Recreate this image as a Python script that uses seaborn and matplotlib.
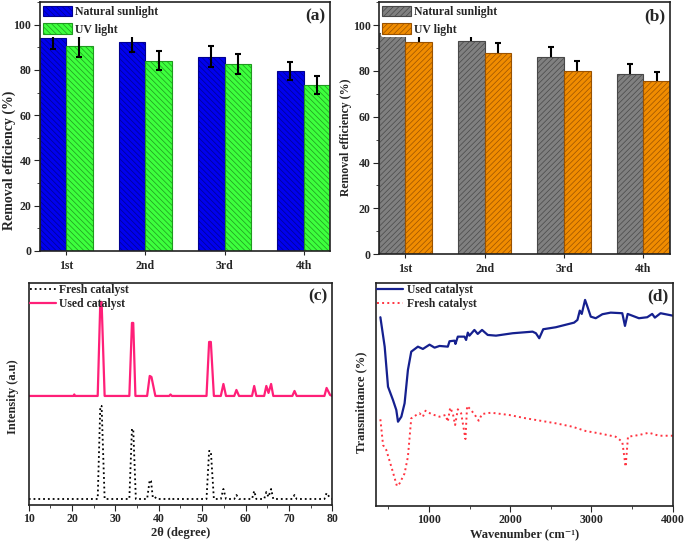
import matplotlib
matplotlib.use('Agg')
import matplotlib.pyplot as plt
import seaborn as sns
import pandas as pd
from matplotlib.patches import Patch
from matplotlib.lines import Line2D
from matplotlib.ticker import MultipleLocator

# ---- data ----
cycles = ['1st', '2nd', '3rd', '4th']
lights = ['Natural sunlight', 'UV light']

# panel (a)
a_sun = [94.3, 92.6, 85.9, 79.6]
a_uv = [90.4, 84.1, 82.6, 73.2]
a_sun_err = [4.9, 4.6, 4.5, 3.9]
a_uv_err = [4.7, 4.2, 4.3, 4.0]

# panel (b)
b_sun = [96.6, 93.0, 85.9, 78.7]
b_uv = [92.7, 87.6, 80.0, 75.6]
b_sun_err = [4.5, 4.9, 4.4, 4.2]
b_uv_err = [4.6, 4.4, 4.3, 3.8]

# panel (c) XRD traces (2theta, intensity a.u.)
used_xrd_x = [10, 20.3, 20.5, 20.7, 25.9, 26.5, 26.8, 27.5, 33.2, 33.8, 34.1, 34.6,
              37.3, 37.9, 38.3, 39.2, 42.4, 42.7, 43.0, 51.0, 51.6, 52.0, 52.7,
              54.3, 54.9, 55.5, 57.4, 57.9, 58.5, 61.5, 62.0, 62.5, 64.3, 64.8,
              65.3, 65.9, 66.4, 70.8, 71.3, 71.8, 78.2, 78.7, 79.5, 80]
used_xrd_y = [109, 109, 110.5, 109, 109, 203, 203, 109, 109, 182, 182, 109,
              109, 129, 128, 109, 109, 110.5, 109, 109, 163, 163, 109,
              109, 121, 109, 109, 115, 109, 109, 119, 109, 109, 119,
              112, 121, 109, 109, 114, 109, 109, 117, 110, 109]
fresh_xrd_x = [10, 25.9, 26.5, 26.8, 27.5, 33.2, 33.8, 34.1, 34.7, 37.3, 37.9, 38.2,
               38.6, 38.9, 39.5, 42.4, 42.7, 43.0, 51.0, 51.6, 52.0, 52.7, 54.3,
               54.9, 55.5, 57.4, 57.9, 58.5, 61.5, 62.0, 62.5, 64.3, 64.8, 65.3,
               65.9, 66.4, 70.8, 71.3, 71.8, 78.2, 78.7, 79.5, 80]
fresh_xrd_y = [6, 6, 99, 99, 6, 6, 76, 76, 6, 6, 25, 24,
               8, 9, 6, 6, 7, 6, 6, 54, 54, 6, 6,
               16, 6, 6, 10, 6, 6, 14, 6, 6, 13, 8,
               16, 6, 6, 10, 6, 6, 12, 7, 6]

# panel (d) FTIR traces (wavenumber, transmittance a.u.)
used_ir_x = [403, 456, 497, 558, 599, 620, 661, 701, 742, 783, 865, 926, 1008, 1070,
             1131, 1233, 1254, 1315, 1327, 1356, 1438, 1458, 1479, 1499, 1560, 1601,
             1654, 1724, 1826, 2031, 2276, 2317, 2358, 2407, 2562, 2787, 2828, 2857,
             2881, 2922, 2951, 2992, 3053, 3135, 3237, 3380, 3413, 3446, 3585, 3687,
             3748, 3781, 3851, 4000]
used_ir_y = [188.7, 159.3, 119.3, 106, 96, 84.3, 89.3, 102.7, 136, 154.3, 159.3, 157,
             161.3, 158.3, 160, 159.3, 164.7, 165.3, 162, 169.3, 169.3, 166, 173.3,
             170.3, 176, 172, 176, 171, 170.3, 172.7, 174.3, 172.7, 167.7, 176.7,
             178.7, 183.3, 186, 195.3, 192, 206, 199.3, 189.3, 187.7, 191.7, 193.3,
             192.7, 180, 192, 187.7, 188.7, 192, 188.3, 192.7, 190.3]
fresh_ir_x = [403, 436, 476, 538, 607, 640, 701, 742, 783, 845, 885, 926, 959, 1029,
              1131, 1205, 1233, 1262, 1294, 1323, 1356, 1397, 1450, 1470, 1519, 1581,
              1613, 1654, 1765, 1990, 2194, 2562, 2767, 2930, 3094, 3298, 3380, 3421,
              3450, 3585, 3708, 3830, 4000]
fresh_ir_y = [86.7, 61, 56, 39.3, 20, 22.7, 32.7, 49.3, 87.7, 91, 92.7, 89.3, 95.3,
              92, 89.3, 91, 84.3, 98.3, 92.7, 81, 96.7, 92.7, 67, 100, 96, 89.3, 85.3,
              92, 93.3, 91, 87.7, 82.7, 79.3, 75, 72.7, 69.3, 64.3, 39.3, 69.3, 71,
              73.3, 70.3, 70.3]

sns.set_style('ticks')
plt.rcParams['font.family'] = ['Liberation Serif', 'DejaVu Serif']
plt.rcParams['font.weight'] = 'bold'
plt.rcParams['axes.labelweight'] = 'bold'
plt.rcParams['hatch.linewidth'] = 0.5
plt.rcParams['axes.edgecolor'] = '#222222'
plt.rcParams['axes.linewidth'] = 1.2

fig = plt.figure(figsize=(6.85, 5.43), dpi=100)


def bar_panel(ax, sun, uv, sun_err, uv_err, colors, edges, hatch, tag, ylab_size, ylab_xy, err_on_top):
    df = pd.DataFrame({'cycle': cycles * 2,
                       'light': [lights[0]] * 4 + [lights[1]] * 4,
                       'eff': sun + uv})
    sns.barplot(data=df, x='cycle', y='eff', hue='light', hue_order=lights,
                palette=colors, width=0.67, gap=0, errorbar=None, legend=False,
                saturation=1, linewidth=0.8, ax=ax)
    for cont, ec, errs in zip(ax.containers, edges, [sun_err, uv_err]):
        xs, ys = [], []
        for bar in cont:
            bar.set_hatch(hatch)
            bar.set_edgecolor(ec)
            xs.append(bar.get_x() + bar.get_width() / 2)
            ys.append(bar.get_height())
        ax.errorbar(xs, ys, yerr=errs, fmt='none', ecolor='black', elinewidth=1.5,
                    capsize=2.5, capthick=1.5, zorder=3 if err_on_top else 0.5)
    ax.set_xlim(-0.335, 3.335)
    ax.set_ylim(0, 110)
    ax.yaxis.set_major_locator(MultipleLocator(20))
    ax.yaxis.set_minor_locator(MultipleLocator(10))
    ax.tick_params(axis='y', which='major', length=4, labelsize=8.5, pad=2)
    ax.tick_params(axis='y', which='minor', length=2.5)
    ax.tick_params(axis='x', length=3, labelsize=8.5)
    ax.set_xlabel('')
    ax.set_ylabel('Removal efficiency (%)', fontsize=ylab_size)
    ax.yaxis.set_label_coords(*ylab_xy)
    handles = [Patch(facecolor=c, edgecolor=e, hatch=hatch, linewidth=0.8)
               for c, e in zip(colors, edges)]
    ax.legend(handles, lights, loc='upper left', frameon=True, framealpha=1,
              facecolor='white', edgecolor='none', fontsize=8.5, handlelength=2.4,
              handleheight=1.0, labelspacing=0.45, handletextpad=0.3,
              borderpad=0.15, borderaxespad=0.15)
    ax.text(0.985, 0.975, tag, transform=ax.transAxes, ha='right', va='top',
            fontsize=12.5, fontweight='bold')


ax_a = fig.add_axes([0.058, 0.538, 0.424, 0.458])
bar_panel(ax_a, a_sun, a_uv, a_sun_err, a_uv_err, ['#0000ee', '#3dff3d'],
          ['#000090', '#1f9a1f'], '\\' * 6, '(a)', 10, (-0.082, 0.365), True)

ax_b = fig.add_axes([0.553, 0.532, 0.425, 0.464])
bar_panel(ax_b, b_sun, b_uv, b_sun_err, b_uv_err, ['#808080', '#f08c00'],
          ['#484848', '#9a5200'], '/' * 6, '(b)', 8.5, (-0.092, 0.464), False)

# ---- (c) XRD ----
ax_c = fig.add_axes([0.042, 0.070, 0.443, 0.409])
sns.lineplot(x=fresh_xrd_x, y=fresh_xrd_y, ax=ax_c, color='black', linestyle=':',
             linewidth=1.3, sort=False, estimator=None)
sns.lineplot(x=used_xrd_x, y=used_xrd_y, ax=ax_c, color='#ff1f78',
             linewidth=1.6, sort=False, estimator=None)
ax_c.set_xlim(10, 80)
ax_c.set_ylim(0, 222)
ax_c.set_yticks([])
ax_c.xaxis.set_major_locator(MultipleLocator(10))
ax_c.xaxis.set_minor_locator(MultipleLocator(5))
ax_c.tick_params(axis='x', which='major', length=4, labelsize=8.5, pad=2)
ax_c.tick_params(axis='x', which='minor', length=2.5)
ax_c.set_xlabel('2θ (degree)', fontsize=9)
ax_c.set_ylabel('Intensity (a.u)', fontsize=9)
ax_c.yaxis.set_label_coords(-0.033, 0.486)
ax_c.xaxis.set_label_coords(0.5, -0.1)
ax_c.legend([Line2D([], [], color='black', linestyle=':', linewidth=1.3),
             Line2D([], [], color='#ff1f78', linewidth=1.6)],
            ['Fresh catalyst', 'Used catalyst'], loc='upper left', frameon=False,
            fontsize=8.5, handlelength=2.2, labelspacing=0.2, handletextpad=0.3,
            borderpad=0.0, borderaxespad=0.1)
ax_c.text(0.985, 0.975, '(c)', transform=ax_c.transAxes, ha='right', va='top',
          fontsize=12.5, fontweight='bold')

# ---- (d) FTIR ----
ax_d = fig.add_axes([0.549, 0.068, 0.433, 0.411])
sns.lineplot(x=used_ir_x, y=used_ir_y, ax=ax_d, color='#15208f', linewidth=1.6,
             sort=False, estimator=None)
sns.lineplot(x=fresh_ir_x, y=fresh_ir_y, ax=ax_d, color='#ff3340', linestyle=':',
             linewidth=1.4, sort=False, estimator=None)
ax_d.set_xlim(350, 4000)
ax_d.set_ylim(0, 223)
ax_d.set_yticks([])
ax_d.xaxis.set_major_locator(MultipleLocator(1000))
ax_d.xaxis.set_minor_locator(MultipleLocator(500))
ax_d.tick_params(axis='x', which='major', length=4, labelsize=8.5, pad=2)
ax_d.tick_params(axis='x', which='minor', length=2.5)
ax_d.set_xlabel('Wavenumber (cm⁻¹)', fontsize=9)
ax_d.set_ylabel('Transmittance (%)', fontsize=9)
ax_d.yaxis.set_label_coords(-0.030, 0.466)
ax_d.xaxis.set_label_coords(0.5, -0.098)
ax_d.legend([Line2D([], [], color='#15208f', linewidth=1.6),
             Line2D([], [], color='#ff3340', linestyle=':', linewidth=1.4)],
            ['Used catalyst', 'Fresh catalyst'], loc='upper left', frameon=False,
            fontsize=8.5, handlelength=2.2, labelspacing=0.2, handletextpad=0.3,
            borderpad=0.0, borderaxespad=0.1)
ax_d.text(0.985, 0.975, '(d)', transform=ax_d.transAxes, ha='right', va='top',
          fontsize=12.5, fontweight='bold')

fig.savefig('out.png', dpi=100)
